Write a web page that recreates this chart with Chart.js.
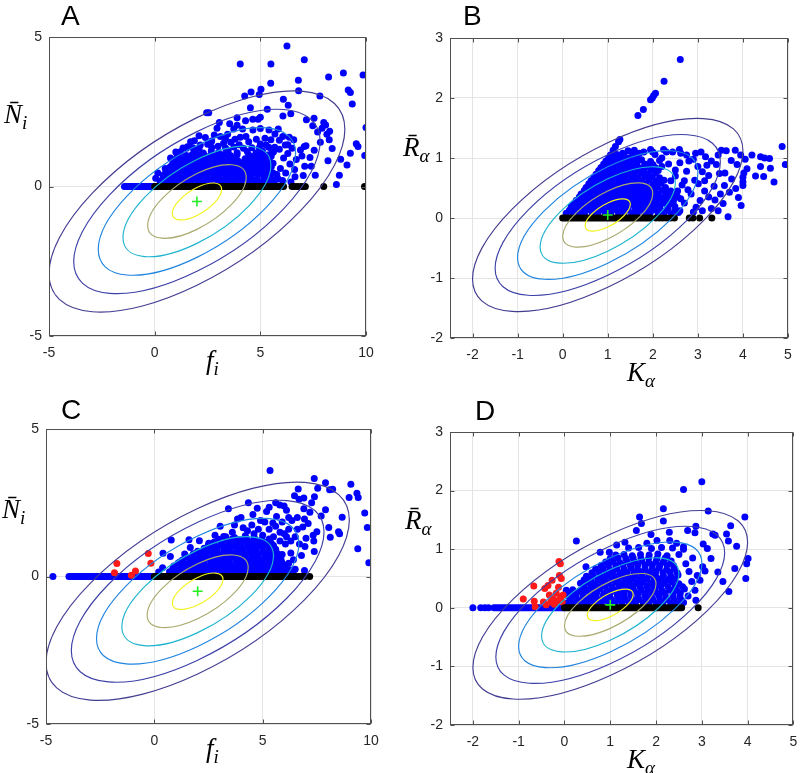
<!DOCTYPE html>
<html><head><meta charset="utf-8">
<script src="https://cdn.jsdelivr.net/npm/chart.js@4/dist/chart.umd.min.js"></script>
<style>
html,body{margin:0;padding:0;background:#fff;}
body{width:800px;height:773px;position:relative;overflow:hidden;}
canvas{position:absolute;}
.lett{position:absolute;font-family:"Liberation Sans",Arial,sans-serif;font-size:28px;line-height:1;color:#000;}
.ax{position:absolute;font-family:"Liberation Serif","DejaVu Serif",serif;font-style:italic;font-size:27px;line-height:1;color:#000;white-space:nowrap;}
.ax sub{font-size:19px;vertical-align:-0.3em;line-height:0;}
</style></head><body>
<canvas id="cA" width="400" height="386" style="left:0;top:0"></canvas>
<canvas id="cB" width="400" height="386" style="left:400px;top:0"></canvas>
<canvas id="cC" width="400" height="387" style="left:0;top:386px"></canvas>
<canvas id="cD" width="400" height="387" style="left:400px;top:386px"></canvas>

<div class="lett" style="left:61px;top:2px">A</div>
<div class="lett" style="left:463px;top:2px">B</div>
<div class="lett" style="left:61px;top:396px">C</div>
<div class="lett" style="left:475px;top:397px">D</div>

<div class="ax" style="left:4px;top:101px">N&#772;<sub>i</sub></div>
<div class="ax" style="left:206px;top:347px">f<sub>i</sub></div>
<div class="ax" style="left:403px;top:134px">R&#772;<sub>α</sub></div>
<div class="ax" style="left:627px;top:359px">K<sub>α</sub></div>
<div class="ax" style="left:2px;top:496px">N&#772;<sub>i</sub></div>
<div class="ax" style="left:206px;top:735px">f<sub>i</sub></div>
<div class="ax" style="left:405px;top:507px">R&#772;<sub>α</sub></div>
<div class="ax" style="left:627px;top:746px">K<sub>α</sub></div>

<script>
// ---------- shared ----------
const contourLevels = [1.0, 0.833, 0.667, 0.5, 0.333, 0.167];

// ---------- Panel A ----------
const A_center = [2.0, -0.5];
const A_cov = [49.0, 16.9, 13.69]; // sxx, sxy, syy
const A_blueRun = [[-1.43,0],[0,0]];
const A_blackRun = [[0,0],[6.1,0]];
const A_black = [[6.5,0],[6.62,0],[6.75,0],[6.9,0],[7.02,0],[7.13,0],[8.0,0],[9.93,0]];
const A_blue = [
[6.26,4.70],[4.05,4.10],[5.50,4.10],[7.08,4.24],[5.49,3.45],[6.80,3.55],[8.23,3.66],[8.93,3.80],[9.86,3.73],[9.16,3.23],[9.26,3.14],[9.35,2.76],[10.0,1.97],[9.94,1.04],[9.54,1.43],[9.62,1.34],[9.26,1.11],[9.1,0.72],[8.8,0.91],[8.74,0.38],[8.6,0.07],[8.2,0.86],[8.4,1.27],[8.26,1.56],[8.28,1.85],[8.09,2.06],[8.0,2.14],[7.82,3.03],[6.81,3.2],[6.09,2.92],[6.32,2.72],[6.07,2.36],[6.44,2.43],[5.03,3.25],[4.95,3.08],[4.56,3.16],[4.26,3.03],[5.33,2.58],[4.53,2.63],[5.0,2.32],[4.89,2.25],[4.64,2.25],[2.46,2.47],[2.56,2.47],[3.06,2.14],[7.18,2.23],[7.54,2.28],[7.48,2.03],[7.71,1.82],[7.92,1.95],[8.15,1.75],[7.84,1.48],[7.16,1.36],[7.55,1.21],[7.35,0.97],[7.1,0.68],[7.41,0.68],[7.6,0.38],[7.03,0.37],[6.62,0.57],[6.64,0.33],[3.9,2.3],[3.55,2.1],
[3.74,1.92],[4.16,1.92],[4.65,1.89],[5.0,1.94],[5.41,1.89],[5.85,1.92],[5.69,1.76],[6.06,1.67],[6.37,1.65],[6.58,1.56],[3.11,1.67],[2.82,1.72],[2.4,1.64],[1.88,1.53],[1.7,1.5],[1.34,1.29],[1.55,1.33],[2.16,1.39],[2.51,1.41],[3.26,1.45],[3.6,1.48],[4.05,1.65],[4.32,1.67],[4.81,1.58],[5.22,1.61],[5.5,1.56],[5.27,1.39],[5.68,1.31],[6.18,1.39],[6.5,1.28],[6.9,1.22],[7.08,1.34],[6.97,1.02],[3.9,2.05],[4.3,2.2],[3.45,1.75],[2.95,1.95],[2.1,1.7],[4.0,1.4],[4.6,1.3],[5.9,1.55],[6.3,1.1],[6.7,0.9],[6.4,0.75],[6.1,0.95],[5.95,0.6],[6.2,0.45],[6.45,0.15],[5.85,0.25],[6.05,0.2],
[2.7,1.52],[3.0,1.35],[3.35,1.6],[3.8,1.58],[4.45,1.5],[5.0,1.42],[5.55,1.2],[5.9,1.25],[6.3,1.4],[0.05,0.28],[0.15,0.45],[0.5,0.6],[0.75,0.95],[1.0,1.15],
[0.25,0.18],[0.55,0.14],[0.82,0.2],[1.12,0.13],[1.4,0.19],[1.73,0.15],[2.02,0.2],[2.31,0.12],[2.6,0.17],[2.93,0.21],[3.2,0.14],[3.52,0.18],[3.81,0.12],[4.1,0.2],[4.43,0.15],[4.7,0.19],[5.02,0.13],[5.33,0.18],[5.62,0.14],
[0.4,0.38],[0.7,0.33],[1.0,0.4],[1.27,0.34],[1.58,0.37],[1.88,0.32],[2.17,0.39],[2.45,0.35],[2.78,0.31],[3.06,0.38],[3.37,0.34],[3.66,0.4],[3.97,0.33],[4.28,0.37],[4.57,0.32],[4.88,0.39],[5.18,0.35],[5.47,0.3],[5.78,0.4],
[0.62,0.56],[0.92,0.52],[1.2,0.58],[1.52,0.54],[1.81,0.6],[2.12,0.53],[2.38,0.57],[2.71,0.52],[3.0,0.59],[3.32,0.55],[3.6,0.51],[3.93,0.58],[4.2,0.54],[4.52,0.6],[4.81,0.52],[5.12,0.57],[5.42,0.55],
[0.85,0.76],[1.13,0.72],[1.43,0.79],[1.74,0.74],[2.03,0.7],[2.33,0.78],[2.62,0.73],[2.9,0.8],[3.22,0.71],[3.52,0.77],[3.8,0.74],[4.12,0.79],[4.41,0.72],[4.73,0.76],[5.02,0.81],[5.31,0.73],[5.6,0.78],
[1.05,0.97],[1.32,0.93],[1.62,0.99],[1.92,0.92],[2.23,0.98],[2.52,0.94],[2.82,1.0],[3.12,0.91],[3.41,0.97],[3.72,0.95],[4.28,0.93],[4.6,0.99],[4.91,0.92],[5.2,0.97],[5.52,1.02],
[1.22,1.16],[1.88,1.18],[2.3,1.12],[2.68,1.19],[3.02,1.14],[3.48,1.2],[3.9,1.13],[4.38,1.17],[4.79,1.12],[5.1,1.19],[5.62,1.15]
];
const A_blueCore = [
[0.4,0.26],[0.68,0.24],[0.97,0.27],[1.26,0.25],[1.56,0.23],[1.87,0.26],[2.16,0.25],[2.46,0.27],[2.76,0.24],[3.07,0.26],[3.36,0.25],[3.66,0.23],[3.95,0.26],[4.27,0.25],[4.56,0.27],[4.85,0.24],[5.17,0.26],[5.47,0.25],[5.72,0.23],
[0.52,0.46],[0.8,0.44],[1.1,0.47],[1.4,0.45],[1.7,0.43],[1.99,0.46],[2.28,0.45],[2.58,0.47],[2.88,0.44],[3.18,0.46],[3.48,0.45],[3.78,0.43],[4.08,0.46],[4.38,0.45],[4.68,0.47],[4.98,0.44],[5.28,0.46],[5.6,0.45],
[0.74,0.66],[1.02,0.64],[1.32,0.67],[1.62,0.65],[1.92,0.63],[2.22,0.66],[2.52,0.65],[2.8,0.67],[3.1,0.64],[3.42,0.66],[3.72,0.65],[4.02,0.63],[4.32,0.66],[4.62,0.65],[4.92,0.67],[5.22,0.64],[5.52,0.66],
[0.95,0.86],[1.26,0.84],[1.55,0.87],[1.85,0.85],[2.14,0.83],[2.43,0.86],[2.73,0.85],[3.02,0.87],[3.32,0.84],[3.62,0.86],[3.95,0.85],[4.25,0.83],[4.55,0.86],[4.85,0.85],[5.15,0.87],[5.45,0.84],
[1.15,1.06],[1.5,1.04],[1.78,1.07],[2.08,1.05],[2.38,1.03],[2.68,1.06],[2.98,1.05],[3.28,1.07],[3.58,1.04],[3.9,1.06],[4.45,1.05],[4.75,1.03],[5.05,1.06],[5.35,1.05],
[1.5,1.28],[1.8,1.3],[2.1,1.27],[2.7,1.31],[3.35,1.29],[3.75,1.32],[4.2,1.28],[4.95,1.3],[5.4,1.31]
];

// ---------- Panel B ----------
const B_center = [1.0, 0.05];
const B_cov = [9.0, 3.2, 2.59];
const B_blackRun = [[0,0],[1.95,0]];
const B_black = [[2.07,0],[2.15,0],[2.22,0],[2.3,0],[2.4,0],[2.48,0],[2.81,0],[2.89,0],[3.04,0],[3.31,0]];
const B_blue = [
[2.61,2.64],[2.25,2.28],[2.06,2.08],[2.02,2.04],[1.99,2.0],[1.95,1.97],[1.79,1.81],[1.67,1.71],[1.27,1.31],[1.24,1.27],[1.17,1.19],[1.12,1.13],
[4.87,1.19],[4.94,0.89],[4.61,0.83],[4.46,0.69],[4.69,0.6],[4.39,1.02],[4.48,1.0],[4.59,0.99],[4.39,0.86],[4.05,0.98],[4.09,0.82],[4.02,0.75],[4.0,0.68],[4.0,0.6],[4.0,0.54],[3.84,0.49],[3.9,0.34],[3.96,0.21],[3.67,0.02],[3.7,0.43],[3.59,0.54],[3.56,0.24],[3.52,1.13],[3.63,1.12],[3.74,0.96],[3.87,0.89],[3.83,1.13],[3.41,0.89],[3.48,0.74],[3.24,0.71],[3.36,0.53],[3.24,0.35],[3.3,0.16],[3.07,1.1],[3.17,1.02],[3.0,0.86],[3.1,0.77],[2.93,0.63],[3.01,0.57],[2.78,0.47],[3.05,0.29],[2.96,0.18],
[1.59,1.13],[1.8,1.1],[1.95,1.14],[2.24,1.14],[2.44,1.1],[2.59,1.14],[1.33,1.08],[2.75,1.05],[2.9,0.98],[2.6,0.92],[2.75,0.78],[2.85,0.4],[2.7,0.25],[3.2,0.88],[2.5,0.7],[2.65,0.55],
[2.2,1.0],[2.35,0.9],[2.5,0.8],[2.4,0.62],[2.55,0.45],[2.7,0.62],[2.8,0.95],[2.95,1.08],[3.15,0.62],[3.3,0.95],[3.45,1.05],[3.38,0.3],[3.15,0.45],[2.9,0.1],[3.1,0.12],[3.45,0.12],[2.62,1.08],[2.3,1.1],[2.0,1.1],[1.7,1.08],[1.45,1.12],[3.6,0.75],[3.75,0.65],[3.95,1.05],[4.2,1.05],[4.28,0.7],[3.5,0.4],[2.45,0.25],[2.3,0.35],[2.6,0.12],
[0.08,0.08],[0.22,0.1],[0.37,0.07],[0.49,0.09],[0.66,0.08],[0.79,0.1],[0.95,0.07],[1.07,0.09],[1.24,0.08],[1.37,0.1],[1.53,0.07],[1.66,0.09],[1.82,0.08],[1.95,0.1],[2.12,0.08],[2.26,0.1],[2.41,0.07],[2.57,0.09],
[0.19,0.19],[0.32,0.18],[0.47,0.2],[0.6,0.17],[0.75,0.19],[0.88,0.18],[1.03,0.2],[1.16,0.17],[1.31,0.19],[1.44,0.18],[1.59,0.2],[1.72,0.17],[1.87,0.19],[2.01,0.18],[2.16,0.2],[2.33,0.17],[2.49,0.19],
[0.3,0.29],[0.44,0.3],[0.58,0.28],[0.72,0.3],[0.86,0.29],[1.0,0.31],[1.14,0.28],[1.28,0.3],[1.43,0.29],[1.56,0.31],[1.7,0.28],[1.85,0.3],[1.99,0.29],[2.14,0.31],[2.3,0.28],[2.46,0.3],[2.62,0.32],
[0.41,0.4],[0.55,0.41],[0.69,0.39],[0.83,0.41],[0.97,0.4],[1.11,0.42],[1.25,0.39],[1.4,0.41],[1.53,0.4],[1.68,0.42],[1.81,0.39],[1.97,0.41],[2.12,0.4],[2.3,0.42],[2.5,0.39],
[0.52,0.51],[0.66,0.52],[0.8,0.5],[0.94,0.52],[1.08,0.51],[1.22,0.53],[1.36,0.5],[1.5,0.52],[1.64,0.51],[1.79,0.53],[1.93,0.5],[2.1,0.52],[2.28,0.51],
[0.63,0.62],[0.77,0.63],[0.91,0.61],[1.05,0.63],[1.19,0.62],[1.33,0.64],[1.47,0.61],[1.62,0.63],[1.76,0.62],[1.92,0.64],[2.08,0.61],[2.25,0.63],
[0.74,0.73],[0.88,0.74],[1.02,0.72],[1.16,0.74],[1.3,0.73],[1.44,0.75],[1.58,0.72],[1.73,0.74],[1.9,0.73],[2.06,0.75],
[0.85,0.84],[0.99,0.85],[1.13,0.83],[1.27,0.85],[1.41,0.84],[1.56,0.86],[1.72,0.83],[1.88,0.85],[2.05,0.84],[2.2,0.86],
[0.96,0.95],[1.1,0.96],[1.25,0.94],[1.4,0.96],[1.57,0.95],[1.75,0.97],[1.95,0.94],[2.15,0.96],
[1.06,1.05],[1.2,1.06],[1.36,1.04],[1.55,1.05],[2.05,1.06]
];
const B_blueCore = [
[0.15,0.13],[0.29,0.14],[0.43,0.12],[0.57,0.14],[0.72,0.13],[0.86,0.14],[1.0,0.12],[1.15,0.14],[1.3,0.13],[1.45,0.14],[1.6,0.12],[1.74,0.14],[1.88,0.13],[2.04,0.14],[2.19,0.12],[2.34,0.14],[2.5,0.13],
[0.25,0.24],[0.39,0.23],[0.53,0.25],[0.67,0.24],[0.81,0.23],[0.95,0.25],[1.09,0.24],[1.23,0.23],[1.37,0.25],[1.5,0.24],[1.64,0.23],[1.78,0.25],[1.92,0.24],[2.07,0.23],[2.24,0.25],[2.4,0.24],
[0.37,0.35],[0.5,0.34],[0.64,0.36],[0.78,0.35],[0.92,0.34],[1.06,0.36],[1.2,0.35],[1.35,0.34],[1.49,0.36],[1.62,0.35],[1.76,0.34],[1.91,0.36],[2.06,0.35],[2.22,0.34],[2.38,0.36],[2.55,0.35],
[0.48,0.46],[0.62,0.45],[0.76,0.47],[0.9,0.46],[1.04,0.45],[1.18,0.47],[1.32,0.46],[1.46,0.45],[1.6,0.47],[1.74,0.46],[1.88,0.45],[2.04,0.47],[2.2,0.46],[2.4,0.45],
[0.58,0.57],[0.72,0.56],[0.86,0.58],[1.0,0.57],[1.14,0.56],[1.28,0.58],[1.42,0.57],[1.56,0.56],[1.7,0.58],[1.85,0.57],[2.0,0.56],[2.18,0.58],
[0.69,0.68],[0.83,0.67],[0.97,0.69],[1.11,0.68],[1.25,0.67],[1.39,0.69],[1.53,0.68],[1.67,0.67],[1.83,0.69],[1.99,0.68],[2.15,0.67],
[0.8,0.79],[0.94,0.78],[1.08,0.8],[1.22,0.79],[1.36,0.78],[1.5,0.8],[1.64,0.79],[1.8,0.78],[1.96,0.8],[2.12,0.79],
[0.91,0.9],[1.05,0.89],[1.19,0.91],[1.33,0.9],[1.48,0.89],[1.65,0.91],[1.82,0.9],[2.0,0.89],
[1.02,1.0],[1.16,1.01],[1.3,0.99],[1.46,1.0],[1.65,1.01]
];

// ---------- Panel C ----------
const C_center = [2.0, -0.5];
const C_cov = [49.0, 16.9, 13.69];
const C_blueRun = [[-3.94,0],[0,0]];
const C_blueSolo = [[-4.68,0]];
const C_blackRun = [[0,0],[6.72,0]];
const C_black = [[6.85,0],[6.95,0],[7.17,0]];
const C_red = [[-1.73,0.44],[-1.84,0.13],[-1.06,0.04],[-0.87,0.19],[-0.28,0.78],[-0.16,0.45]];
const C_blue = [
[5.34,3.59],[7.38,3.32],[7.9,3.18],[7.54,2.99],[6.64,2.97],[6.47,2.74],[6.68,2.62],[6.9,2.66],[7.39,2.7],[8.09,2.94],[8.23,2.96],[9.07,3.13],[8.99,2.68],[9.35,2.82],[9.41,2.68],[9.71,2.15],[9.83,1.66],[9.9,0.47],[9.39,0.94],[8.67,2.01],[8.5,1.52],[8.55,1.45],[8.12,1.33],[8.05,1.66],[7.9,2.26],[7.26,2.5],[7.18,2.18],[7.5,1.52],[7.33,1.4],[7.36,1.2],[7.1,1.8],[6.93,1.95],[6.85,1.68],[7.38,0.85],[6.95,1.02],[6.79,0.71],[6.93,0.2],[6.42,0.57],[6.3,0.8],[4.75,2.31],[4.34,2.5],[3.42,2.3],[3.84,1.95],[3.04,1.7],[2.8,1.4],[2.51,1.13],[2.08,1.21],[1.66,0.98],[1.4,0.76],[1.2,0.5],[0.78,1.24],[0.74,0.68],[0.4,0.79],[0.38,0.3],[5.79,2.42],[5.99,2.39],[6.1,2.25],[5.64,2.03],[5.18,2.2],[5.47,1.81],[6.2,1.6],[6.5,1.35],[6.05,1.1],[5.9,1.85],[6.6,2.0],[6.2,2.0],[5.3,1.6],[4.9,1.9],[4.5,1.75],[4.1,1.65],[4.55,2.1],[3.6,1.5],[3.3,1.35],[0.2,0.15],[0.9,0.25],[1.6,1.25],
[4.3,1.55],[4.8,1.6],[5.1,1.85],[5.6,1.7],[6.35,1.9],[6.0,1.45],[6.3,1.2],[4.0,2.0],[3.7,1.75],[5.3,2.35],[5.6,2.5],[6.9,2.3],[7.7,2.05],[7.0,1.3],[6.6,1.6],[5.9,0.75],[6.2,0.45],[6.5,0.25],[6.7,1.1],[4.6,1.45],[5.8,1.5],
[0.7,0.16],[1.0,0.12],[1.3,0.18],[1.6,0.14],[1.9,0.19],[2.2,0.13],[2.5,0.17],[2.8,0.12],[3.1,0.19],[3.4,0.15],[3.7,0.12],[4.0,0.18],[4.3,0.14],[4.6,0.19],[4.9,0.13],[5.2,0.17],[5.5,0.12],[5.8,0.18],[6.1,0.15],[6.4,0.13],
[0.9,0.36],[1.25,0.33],[1.55,0.39],[1.85,0.34],[2.15,0.38],[2.45,0.32],[2.75,0.37],[3.05,0.34],[3.35,0.39],[3.65,0.33],[3.95,0.37],[4.25,0.32],[4.55,0.38],[4.85,0.35],[5.15,0.31],[5.45,0.38],[5.75,0.34],[6.05,0.37],
[1.3,0.56],[1.65,0.53],[1.95,0.58],[2.25,0.54],[2.55,0.6],[2.85,0.52],[3.15,0.57],[3.45,0.53],[3.75,0.59],[4.05,0.55],[4.35,0.51],[4.65,0.57],[4.95,0.54],[5.25,0.59],[5.55,0.52],[5.85,0.56],
[1.8,0.77],[2.1,0.73],[2.4,0.79],[2.7,0.74],[3.0,0.71],[3.3,0.78],[3.6,0.74],[3.9,0.8],[4.2,0.72],[4.5,0.77],[4.8,0.73],[5.1,0.79],[5.4,0.74],[5.7,0.77],
[2.3,0.96],[2.6,0.92],[2.9,0.98],[3.2,0.93],[3.5,0.99],[3.8,0.94],[4.1,0.91],[4.4,0.97],[4.7,0.93],[5.0,0.99],[5.3,0.95],[5.6,0.92],
[2.75,1.16],[3.1,1.12],[3.45,1.18],[3.75,1.13],[4.05,1.19],[4.4,1.14],[4.75,1.11],[5.05,1.17],[5.4,1.13],
[3.2,1.36],[3.7,1.32],[4.2,1.38],[4.6,1.33],[5.0,1.4],[5.5,1.35],[5.8,1.2],[6.1,1.35]
];
const C_blueCore = [
[0.85,0.26],[1.15,0.24],[1.45,0.27],[1.75,0.25],[2.05,0.23],[2.35,0.26],[2.65,0.25],[2.95,0.27],[3.25,0.24],[3.55,0.26],[3.85,0.25],[4.15,0.23],[4.45,0.26],[4.75,0.25],[5.05,0.27],[5.35,0.24],[5.65,0.26],[5.95,0.25],[6.25,0.23],
[1.1,0.46],[1.4,0.44],[1.7,0.47],[2.0,0.45],[2.3,0.43],[2.6,0.46],[2.9,0.45],[3.2,0.47],[3.5,0.44],[3.8,0.46],[4.1,0.45],[4.4,0.43],[4.7,0.46],[5.0,0.45],[5.3,0.47],[5.6,0.44],[5.9,0.46],
[1.5,0.66],[1.8,0.64],[2.1,0.67],[2.4,0.65],[2.7,0.63],[3.0,0.66],[3.3,0.65],[3.6,0.67],[3.9,0.64],[4.2,0.66],[4.5,0.65],[4.8,0.63],[5.1,0.66],[5.4,0.65],[5.7,0.67],
[2.0,0.86],[2.3,0.84],[2.6,0.87],[2.9,0.85],[3.2,0.83],[3.5,0.86],[3.8,0.85],[4.1,0.87],[4.4,0.84],[4.7,0.86],[5.0,0.85],[5.3,0.83],[5.6,0.86],
[2.5,1.06],[2.8,1.04],[3.1,1.07],[3.4,1.05],[3.7,1.03],[4.0,1.06],[4.3,1.05],[4.6,1.07],[4.9,1.04],[5.2,1.06],[5.5,1.05],
[2.95,1.26],[3.3,1.24],[3.6,1.27],[3.95,1.25],[4.3,1.23],[4.65,1.26],[4.95,1.25],[5.3,1.27]
];

// ---------- Panel D ----------
const D_center = [1.0, 0.05];
const D_cov = [9.0, 3.2, 2.59];
const D_blueRun = [[-1.54,0],[0,0]];
const D_blueSolo = [[-2.0,0],[-1.83,0],[-1.74,0],[-1.66,0]];
const D_blackRun = [[0,0],[2.56,0]];
const D_black = [[2.92,0]];
const D_red = [[-0.67,0.37],[-0.9,0.15],[-0.66,0.11],[-0.64,0.02],[-0.43,0.33],[-0.36,0.38],[-0.27,0.47],[-0.12,0.79],[-0.09,0.75],[-0.11,0.55],[-0.07,0.5],[-0.18,0.25],[-0.33,0.22],[-0.4,0.05],[-0.3,0.1],[-0.22,0.06],[-0.15,0.12],[-0.08,0.18],[-0.03,0.22],[-0.13,0.35],[-0.05,0.1],[-0.25,0.15],[-0.46,0.1]];
const D_blue = [
[2.16,1.69],[3.14,1.65],[3.94,1.55],[3.63,1.4],[3.54,1.26],[3.58,1.14],[3.76,1.05],[4.01,0.84],[3.98,0.75],[3.96,0.5],[3.72,0.67],[3.59,0.28],[3.46,0.45],[3.35,0.61],[3.29,1.24],[3.24,1.26],[3.12,1.01],[3.03,1.09],[3.2,0.84],[3.02,0.7],[3.07,0.63],[2.96,0.47],[2.87,1.39],[2.85,1.28],[2.69,1.32],[2.29,1.29],[2.16,1.48],[1.68,1.44],[1.64,1.55],[1.57,1.32],[1.89,1.25],[2.02,1.15],[1.32,1.12],[1.14,1.07],[0.98,0.95],[0.78,0.95],[0.26,1.14],[0.47,0.7],[2.87,0.13],[2.6,2.02],[3.0,2.15],
[2.7,0.2],[2.78,0.45],[2.72,0.62],[2.85,0.3],[2.9,0.55],[2.65,0.75],[2.8,0.85],[2.45,1.1],[2.6,1.0],[2.3,1.15],[1.8,1.1],
[0.06,0.08],[0.2,0.07],[0.37,0.09],[0.5,0.08],[0.66,0.07],[0.8,0.09],[0.97,0.08],[1.1,0.07],[1.26,0.09],[1.41,0.08],[1.55,0.07],[1.72,0.09],[1.85,0.08],[2.01,0.07],[2.15,0.09],[2.32,0.08],[2.46,0.07],[2.6,0.09],
[0.1,0.19],[0.24,0.2],[0.4,0.18],[0.55,0.2],[0.69,0.19],[0.85,0.21],[0.99,0.18],[1.16,0.2],[1.3,0.19],[1.45,0.21],[1.6,0.18],[1.76,0.2],[1.9,0.19],[2.06,0.21],[2.21,0.18],[2.37,0.2],[2.52,0.19],
[0.04,0.3],[0.18,0.31],[0.33,0.29],[0.48,0.31],[0.63,0.3],[0.78,0.32],[0.93,0.29],[1.07,0.31],[1.22,0.3],[1.38,0.32],[1.52,0.29],[1.68,0.31],[1.83,0.3],[1.98,0.32],[2.13,0.29],[2.3,0.31],[2.45,0.3],[2.62,0.32],
[0.35,0.42],[0.52,0.43],[0.66,0.41],[0.82,0.43],[0.96,0.42],[1.12,0.44],[1.27,0.41],[1.42,0.43],[1.58,0.42],[1.72,0.44],[1.88,0.41],[2.03,0.43],[2.18,0.42],[2.34,0.44],[2.5,0.41],
[0.48,0.54],[0.63,0.55],[0.79,0.53],[0.94,0.55],[1.09,0.54],[1.25,0.56],[1.4,0.53],[1.55,0.55],[1.7,0.54],[1.86,0.56],[2.0,0.53],[2.16,0.55],[2.32,0.54],[2.48,0.56],
[0.68,0.66],[0.84,0.67],[0.99,0.65],[1.14,0.67],[1.3,0.66],[1.46,0.68],[1.6,0.65],[1.76,0.67],[1.92,0.66],[2.07,0.68],[2.23,0.65],[2.4,0.67],
[0.9,0.78],[1.06,0.79],[1.21,0.77],[1.37,0.79],[1.53,0.78],[1.69,0.8],[1.84,0.77],[2.0,0.79],[2.16,0.78],[2.33,0.8],
[1.12,0.9],[1.3,0.91],[1.48,0.89],[1.66,0.91],[1.85,0.9],[2.04,0.92],[2.24,0.89],[2.5,0.91],
[1.4,1.02],[1.62,1.03],[1.9,1.01],[2.12,1.03],[2.36,1.02],[2.6,1.04]
];
const D_blueCore = [
[0.13,0.14],[0.28,0.13],[0.44,0.14],[0.58,0.13],[0.73,0.14],[0.88,0.13],[1.03,0.14],[1.18,0.13],[1.33,0.14],[1.48,0.13],[1.63,0.14],[1.78,0.13],[1.93,0.14],[2.08,0.13],[2.24,0.14],[2.39,0.13],[2.54,0.14],
[0.11,0.25],[0.26,0.24],[0.41,0.25],[0.56,0.24],[0.7,0.25],[0.86,0.24],[1.0,0.25],[1.15,0.24],[1.3,0.25],[1.45,0.24],[1.6,0.25],[1.75,0.24],[1.9,0.25],[2.05,0.24],[2.2,0.25],[2.37,0.24],[2.53,0.25],
[0.42,0.36],[0.58,0.37],[0.74,0.36],[0.89,0.37],[1.04,0.36],[1.19,0.37],[1.34,0.36],[1.5,0.37],[1.65,0.36],[1.8,0.37],[1.95,0.36],[2.1,0.37],[2.26,0.36],[2.42,0.37],[2.58,0.36],
[0.43,0.48],[0.58,0.49],[0.73,0.48],[0.88,0.49],[1.03,0.48],[1.18,0.49],[1.33,0.48],[1.49,0.49],[1.64,0.48],[1.8,0.49],[1.95,0.48],[2.1,0.49],[2.25,0.48],[2.41,0.49],
[0.6,0.6],[0.76,0.61],[0.91,0.6],[1.06,0.61],[1.21,0.6],[1.37,0.61],[1.52,0.6],[1.68,0.61],[1.83,0.6],[1.99,0.61],[2.15,0.6],[2.31,0.61],[2.46,0.6],
[0.8,0.72],[0.96,0.73],[1.12,0.72],[1.28,0.73],[1.44,0.72],[1.6,0.73],[1.76,0.72],[1.92,0.73],[2.08,0.72],[2.24,0.73],[2.38,0.72],
[1.0,0.84],[1.17,0.85],[1.34,0.84],[1.5,0.85],[1.67,0.84],[1.84,0.85],[2.02,0.84],[2.2,0.85]
];

// ---------- styles ----------
const ellipseColors = ['#433d92','#3d40a6','#1f84df','#1db3cf','#a9aa6e','#f2f21c'];
const BLUE = '#0000ff', RED = '#ff1a1a', BLACK = '#000000', GREEN = '#22ee22';
const PR = 3.5;

const contourPlugin = {
  id: 'contour',
  beforeDatasetDraw(chart, args) {
    if (args.index !== 0) return;
    const p = chart.options.plugins.contour;
    const ctx = chart.ctx, xs = chart.scales.x, ys = chart.scales.y, ca = chart.chartArea;
    const cx = xs.getPixelForValue(p.center[0]), cy = ys.getPixelForValue(p.center[1]);
    const ux = xs.getPixelForValue(p.center[0] + 1) - cx;
    const uy = ys.getPixelForValue(p.center[1] + 1) - cy;
    const sxx = p.cov[0], sxy = p.cov[1], syy = p.cov[2];
    const l11 = Math.sqrt(sxx), l21 = sxy / l11, l22 = Math.sqrt(syy - l21 * l21);
    ctx.save();
    ctx.beginPath(); ctx.rect(ca.left, ca.top, ca.right - ca.left, ca.bottom - ca.top); ctx.clip();
    contourLevels.forEach((k, i) => {
      ctx.save();
      ctx.translate(cx, cy); ctx.scale(ux, uy); ctx.transform(l11, l21, 0, l22, 0, 0);
      ctx.beginPath(); ctx.arc(0, 0, k, 0, Math.PI * 2);
      ctx.restore();
      ctx.strokeStyle = ellipseColors[i]; ctx.lineWidth = 1.15; ctx.stroke();
    });
    ctx.restore();
  }
};

const boxPlugin = {
  id: 'box',
  afterDraw(chart) {
    const ctx = chart.ctx, ca = chart.chartArea, xs = chart.scales.x, ys = chart.scales.y;
    const l = Math.round(ca.left) + 0.5, r = Math.round(ca.right) - 0.5, t = Math.round(ca.top) + 0.5, b = Math.round(ca.bottom) - 0.5;
    ctx.save();
    ctx.strokeStyle = '#505050'; ctx.lineWidth = 1;
    ctx.strokeRect(l, t, r - l, b - t);
    const TL = 4;
    ctx.beginPath();
    xs.ticks.forEach(tk => {
      const x = Math.round(xs.getPixelForValue(tk.value)) + 0.5;
      ctx.moveTo(x, b); ctx.lineTo(x, b - TL);
      ctx.moveTo(x, t); ctx.lineTo(x, t + TL);
    });
    ys.ticks.forEach(tk => {
      const y = Math.round(ys.getPixelForValue(tk.value)) + 0.5;
      ctx.moveTo(l, y); ctx.lineTo(l + TL, y);
      ctx.moveTo(r, y); ctx.lineTo(r - TL, y);
    });
    ctx.stroke();
    ctx.restore();
  }
};

function toPts(arr) { return arr.map(p => ({x: p[0], y: p[1]})); }

function makePanel(id, cfg) {
  const ds = [];
  ds.push({data: toPts([cfg.center]), pointStyle: 'cross', pointRadius: 5, borderColor: GREEN, borderWidth: 1.6, backgroundColor: GREEN});
  ds.push({data: toPts(cfg.black), pointRadius: PR, backgroundColor: BLACK, borderWidth: 0});
  ds.push({data: toPts(cfg.blackRun), showLine: true, borderColor: BLACK, borderWidth: PR * 2, borderCapStyle: 'round', pointRadius: 0});
  ds.push({data: toPts(cfg.red || []), pointRadius: PR, backgroundColor: RED, borderWidth: 0});
  ds.push({data: toPts(cfg.blue), pointRadius: PR, backgroundColor: BLUE, borderWidth: 0});
  ds.push({data: toPts(cfg.blueSolo || []), pointRadius: PR, backgroundColor: BLUE, borderWidth: 0});
  ds.push({data: toPts(cfg.blueRun || []), showLine: true, borderColor: BLUE, borderWidth: PR * 2, borderCapStyle: 'round', pointRadius: 0});
  const tickFont = {family: '"Liberation Sans", Arial, sans-serif', size: 14};
  new Chart(document.getElementById(id), {
    type: 'scatter',
    data: {datasets: ds},
    options: {
      responsive: false, animation: false, events: [],
      layout: {padding: {left: 0, top: cfg.padTop, right: cfg.padRight, bottom: 0}},
      plugins: {legend: {display: false}, tooltip: {enabled: false},
        contour: {center: cfg.center, cov: cfg.cov}},
      scales: {
        x: {type: 'linear', min: cfg.xr[0], max: cfg.xr[1],
          ticks: {stepSize: cfg.xr[2], includeBounds: false, autoSkip: false, maxRotation: 0, color: '#262626', font: tickFont, padding: 9},
          grid: {color: '#e4e4e4', drawTicks: false, lineWidth: 1}, border: {display: false},
          afterFit(s) { s.height = cfg.xh; s.paddingLeft = 0; s.paddingRight = 0; }},
        y: {type: 'linear', min: cfg.yr[0], max: cfg.yr[1],
          ticks: {stepSize: cfg.yr[2], includeBounds: false, autoSkip: false, color: '#262626', font: tickFont, padding: 7},
          grid: {color: '#e4e4e4', drawTicks: false, lineWidth: 1}, border: {display: false},
          afterFit(s) { s.width = cfg.yw; s.paddingTop = 0; s.paddingBottom = 0; }}
      }
    },
    plugins: [contourPlugin, boxPlugin]
  });
}

makePanel('cA', {center: A_center, cov: A_cov, blue: A_blue.concat(A_blueCore), blueRun: A_blueRun, black: A_black, blackRun: A_blackRun,
  xr: [-5, 10, 5], yr: [-5, 5, 5], padTop: 37, padRight: 34, yw: 49, xh: 50});
makePanel('cB', {center: B_center, cov: B_cov, blue: B_blue.concat(B_blueCore), black: B_black, blackRun: B_blackRun,
  xr: [-2.5, 5, 1], yr: [-2, 3, 1], padTop: 38, padRight: 12, yw: 50, xh: 48});
makePanel('cC', {center: C_center, cov: C_cov, blue: C_blue.concat(C_blueCore), blueRun: C_blueRun, blueSolo: C_blueSolo, red: C_red, black: C_black, blackRun: C_blackRun,
  xr: [-5, 10, 5], yr: [-5, 5, 5], padTop: 43, padRight: 29, yw: 46, xh: 49});
makePanel('cD', {center: D_center, cov: D_cov, blue: D_blue.concat(D_blueCore), blueRun: D_blueRun, blueSolo: D_blueSolo, red: D_red, black: D_black, blackRun: D_blackRun,
  xr: [-2.5, 5, 1], yr: [-2, 3, 1], padTop: 46, padRight: 5, yw: 50, xh: 48});
</script>
</body></html>
